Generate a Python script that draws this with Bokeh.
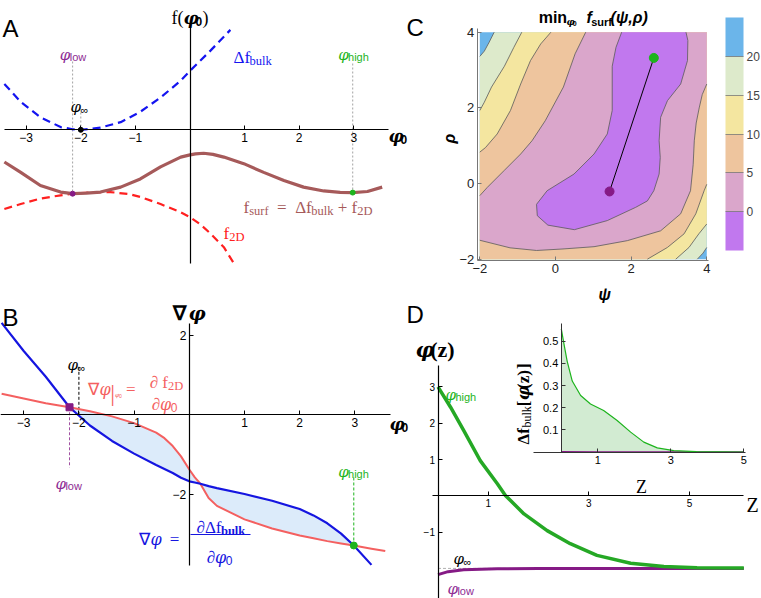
from math import pi
from bokeh.plotting import figure
from bokeh.models import Range1d, LinearAxis, FixedTicker, ColorBar, LinearColorMapper
from bokeh.core.properties import value
from bokeh.embed import file_html
from bokeh.resources import INLINE

# ======================= DATA =======================
# --- Panel A: free energies vs phi0 (arbitrary f units) ---
phi_bulk = [-3.40, -3.10, -2.74, -2.37, -2.15, -2.00, -1.64, -1.27, -0.91, -0.54, -0.17, 0.00, 0.375, 0.74]
df_bulk = [0.84, 0.51, 0.23, 0.05, 0.01, 0.00, 0.04, 0.14, 0.33, 0.59, 0.90, 1.08, 1.45, 1.83]
phi_2d = [-3.40, -3.10, -2.74, -2.37, -2.15, -1.80, -1.46, -1.10, -0.91, -0.54, -0.17, 0.00, 0.20, 0.375, 0.62, 0.83]
f_2d = [-1.45, -1.36, -1.26, -1.20, -1.17, -1.145, -1.14, -1.18, -1.23, -1.36, -1.51, -1.60, -1.74, -1.90, -2.15, -2.49]
phi_surf = [-3.40, -3.10, -2.74, -2.37, -2.15, -1.90, -1.64, -1.27, -0.91, -0.54, -0.17, 0.00, 0.10, 0.25,
            0.42, 0.62, 0.985, 1.35, 1.72, 2.08, 2.45, 2.75, 2.98, 3.25, 3.52]
f_surf = [-0.59, -0.78, -1.02, -1.14, -1.17, -1.16, -1.14, -1.05, -0.90, -0.68, -0.50, -0.46, -0.44, -0.43,
          -0.45, -0.50, -0.62, -0.78, -0.93, -1.05, -1.12, -1.145, -1.15, -1.13, -1.05]
A_phi_low, A_phi_inf, A_phi_high = -2.15, -2.00, 2.98
A_f_low, A_f_high = -1.17, -1.15
A_xticks = [-3, -2, -1, 1, 2, 3]

# --- Panel B: gradients vs phi0 ---
phi_B = [-3.40, -3.00, -2.60, -2.17, -1.80, -1.40, -1.00, -0.60, -0.45, -0.30, -0.15, 0.00, 0.10, 0.20, 0.35,
         0.50, 1.00, 1.50, 2.00, 2.25, 2.50, 2.75, 2.98, 3.30, 3.55]
grad_bulk = [2.32, 1.61, 0.96, 0.19, -0.27, -0.66, -0.98, -1.27, -1.37, -1.47, -1.59, -1.68, -1.71, -1.74, -1.80,
             -1.85, -2.00, -2.17, -2.38, -2.54, -2.74, -3.00, -3.30, -3.79]
grad_2d = [0.53, 0.41, 0.29, 0.19, 0.09, -0.04, -0.21, -0.45, -0.59, -0.79, -1.05, -1.38, -1.58, -1.74, -2.10,
           -2.30, -2.64, -2.87, -3.05, -3.12, -3.19, -3.25, -3.30, -3.38, -3.44]
B_phi_low, B_g_low = -2.17, 0.19
B_phi_high, B_g_high = 2.98, -3.30
B_phi_inf = -2.00
B_xticks = [-3, -2, -1, 1, 2, 3]
B_yticks = [-2, 2]

# --- Panel C: contour levels of min f_surf(psi, rho) ---
psi_lim = [-2.0, 4.0]
rho_lim = [-2.0, 4.0]
C_ticks = [-2, 0, 2, 4]
C_levels = [-5, 0, 5, 10, 15, 20, 25]
C_colors = ["#C178EE", "#DAA6CB", "#EEC59E", "#F4E6A0", "#DDEACB", "#6BB5EA"]
c20u_psi = [-1.62, -1.75, -1.88, -2.00]
c20u_rho = [4.00, 3.74, 3.50, 3.36]
c15u_psi = [-0.89, -1.10, -1.35, -1.69, -1.88, -2.00]
c15u_rho = [4.00, 3.60, 3.10, 2.55, 2.15, 1.93]
c10u_psi = [-0.12, -0.39, -0.66, -0.92, -1.19, -1.54, -1.85, -2.00]
c10u_rho = [4.00, 3.69, 3.25, 2.63, 1.93, 1.31, 0.95, 0.83]
c5u_psi = [0.80, 0.52, 0.21, -0.27, -0.62, -0.92, -1.36, -1.80, -2.00]
c5u_rho = [4.00, 3.43, 2.55, 1.66, 1.13, 0.78, 0.34, -0.10, -0.32]
c5l_psi = [4.00, 3.88, 3.80, 3.72, 3.67, 3.64, 3.57, 3.31, 2.78, 1.90, 1.02, 0.20, -0.50, -1.20, -2.00]
c5l_rho = [2.63, 2.35, 2.00, 1.60, 1.13, 0.50, -0.19, -0.80, -1.25, -1.51, -1.67, -1.73, -1.77, -1.70, -1.50]
c10l_psi = [2.43, 2.96, 3.40, 3.71, 3.93, 4.00]
c10l_rho = [-2.00, -1.69, -1.33, -0.80, -0.19, -0.02]
c15l_psi = [3.18, 3.53, 3.79, 4.00]
c15l_rho = [-2.00, -1.69, -1.33, -1.07]
c20l_psi = [3.75, 3.90, 4.00]
c20l_rho = [-2.00, -1.84, -1.69]
c0_psi = [1.75, 1.60, 1.50, 1.50, 1.50, 1.37, 1.02, 0.49, -0.22, -0.50, -0.48, -0.20, 0.50, 1.37, 2.12,
          2.43, 2.60, 2.74, 2.77, 2.74, 2.78, 2.96, 3.31, 3.49, 3.50, 3.45]
c0_rho = [4.00, 3.60, 3.10, 2.55, 1.93, 1.31, 0.78, 0.25, -0.19, -0.55, -0.85, -1.10, -1.22, -0.98, -0.63,
          -0.46, -0.19, 0.25, 0.69, 1.13, 1.75, 2.19, 2.63, 3.25, 3.78, 4.00]
C_low_pt = (1.43, -0.21)
C_high_pt = (2.60, 3.32)

# --- Panel D: profiles phi(z) and inset bulk free energy ---
z_high = [0.00, 0.25, 0.51, 0.84, 1.18, 1.34, 1.71, 2.17, 2.63, 3.16, 3.83, 4.49, 5.15, 6.08]
phi_high_z = [3.00, 2.44, 1.80, 0.97, 0.33, 0.01, -0.50, -0.96, -1.32, -1.64, -1.86, -1.95, -1.98, -1.99]
z_low = [0.00, 0.20, 0.51, 1.18, 2.00, 3.00, 6.08]
phi_low_z = [-2.17, -2.09, -2.04, -2.01, -2.00, -2.00, -2.00]
D_phi_inf = -2.0
D_xticks = [1, 3, 5]
D_yticks = [-1, 1, 2, 3]
zi = [0.00, 0.07, 0.16, 0.30, 0.53, 0.80, 1.16, 1.53, 1.90, 2.26, 2.63, 3.08, 3.70, 5.00]
dfz_high = [0.555, 0.49, 0.41, 0.32, 0.255, 0.217, 0.187, 0.142, 0.090, 0.045, 0.019, 0.007, 0.002, 0.0]
zi_low = [0.0, 1.0, 5.0]
dfz_low = [0.001, 0.0, 0.0]
I_xticks = [1, 3, 5]
I_yticks = [0.1, 0.2, 0.3, 0.4, 0.5]

# ======================= STYLE / HELPERS =======================
SANS = "Liberation Sans"
SERIF = "Liberation Serif"
GREEK = "DejaVu Serif"
NB = "\u00a0"
PURPLE = "#851A85"
PURPLE_T = "#8E2C94"
GREEN = "#25A825"
GREEN_T = "#1DB41D"
BROWN = "#A65A5A"
BLUE_A = "#1414F0"
RED_A = "#FF2020"
BLUE_B = "#1515E0"
RED_B = "#F46060"

WS = {c: 0.556 for c in "0123456789"}
WS.update({'l': 0.222, 'o': 0.556, 'w': 0.722, 'h': 0.556, 'i': 0.222, 'g': 0.556, 'm': 0.833, 'n': 0.556,
           ' ': 0.278, NB: 0.278, 'ψ': 0.70, 'ρ': 0.58, ',': 0.278, '(': 0.333, ')': 0.333, 'f': 0.278,
           's': 0.5, 'u': 0.556, 'r': 0.333, 'A': 0.667, 'B': 0.667, 'C': 0.722, 'D': 0.722, '∞': 0.75})
WR = {'f': 0.333, '(': 0.333, ')': 0.333, 'Δ': 0.612, '=': 0.564, '+': 0.564, '∂': 0.494, '∇': 0.713,
      'Z': 0.611, '[': 0.333, ']': 0.333, 'z': 0.444, 'b': 0.5, 'u': 0.5, 'l': 0.278, 'k': 0.5, 's': 0.389,
      'r': 0.333, '2': 0.5, 'D': 0.722, ' ': 0.25, NB: 0.25, '0': 0.5, '∞': 0.713, '|': 0.2}
WG = {'φ': 0.66}


def rich(p, x, y, parts, color, align="left", angle=0.0, **rn):
    ws = []
    for t, fam, size, style, dy in parts:
        tab = WR if fam == SERIF else (WG if fam == GREEK else WS)
        w = sum(tab.get(c, 0.55) for c in t) * size
        if "bold" in style:
            w *= 1.06
        ws.append(w)
    tot = sum(ws)
    off = {"left": 0.0, "center": -tot / 2.0, "right": -tot}[align]
    for (t, fam, size, style, dy), w in zip(parts, ws):
        xo, yo = (off, dy) if angle == 0 else (dy, -off)
        p.text(x=[x], y=[y], text=[t], x_offset=xo, y_offset=yo, angle=angle,
               text_font=value(fam), text_font_size=f"{size}px", text_font_style=style,
               text_color=color, text_align="left", text_baseline="alphabetic", **rn)
        off += w


def PHI(size, bold=False):
    return ("φ", GREEK, size, "bold italic" if bold else "italic", 0)


def phi_sub(sub, size=15, subsize=11, dy=2, bold=False):
    return [PHI(size, bold), (sub, SANS, subsize, "bold" if bold else "normal", dy)]


def neg(ticks):
    return {t: ("−" + str(abs(t))) for t in ticks if t < 0}


def axis(p, side, loc, bounds, ticks, size="12px", tick_in=4, color="black", width=1.2,
         standoff=2, label_color="black", **kw):
    a = LinearAxis(fixed_location=loc, bounds=bounds, ticker=FixedTicker(ticks=ticks, minor_ticks=[]),
                   axis_line_color=color, axis_line_width=width, major_tick_in=tick_in, major_tick_out=0,
                   major_tick_line_color=color, minor_tick_in=0, minor_tick_out=0,
                   major_label_text_font=SANS, major_label_text_font_size=size,
                   major_label_text_color=label_color, major_label_standoff=standoff, **kw)
    ov = neg(ticks)
    if ov:
        a.major_label_overrides = ov
    p.add_layout(a, side)
    return a


# pixel -> data converters (layout positions only)
def XA(px): return (px - 189.5) / 54.6
def YA(py): return (129.3 - py) / 54.6
def XB(px): return (px - 188.8) / 55.2
def YB(py): return (414.3 - py) / 39.6
def XC(px): return -2 + (px - 479.3) / 37.83
def YC(py): return 4 - (py - 31.7) / 37.83
def XD(px): return (px - 437.5) / 50.3
def YD(py): return (495.3 - py) / 36.3
def XI(px): return (px - 560.8) / 36.5
def YI(py): return (451.6 - py) / 222.0


W, H = 761, 598
p = figure(width=W, height=H, x_range=Range1d(XA(0), XA(W)), y_range=Range1d(YA(H), YA(0)),
           output_backend="svg", toolbar_location=None, x_axis_location=None, y_axis_location=None,
           min_border=0, outline_line_color=None, background_fill_color="white", border_fill_color="white")
p.grid.visible = False
p.extra_x_ranges = {"xB": Range1d(XB(0), XB(W)), "xC": Range1d(XC(0), XC(W)),
                    "xD": Range1d(XD(0), XD(W)), "xI": Range1d(XI(0), XI(W))}
p.extra_y_ranges = {"yB": Range1d(YB(H), YB(0)), "yC": Range1d(YC(H), YC(0)),
                    "yD": Range1d(YD(H), YD(0)), "yI": Range1d(YI(H), YI(0))}
RB = dict(x_range_name="xB", y_range_name="yB")
RC = dict(x_range_name="xC", y_range_name="yC")
RD = dict(x_range_name="xD", y_range_name="yD")
RI = dict(x_range_name="xI", y_range_name="yI")

# ======================= PANEL A =======================
axis(p, "below", 0, (XA(4), XA(388)), A_xticks, standoff=3)
axis(p, "left", 0, (YA(263), YA(26)), [], tick_in=0)
GUIDE = dict(line_color="#8c8c8c", line_dash="2 2", line_width=0.8)
p.segment(x0=[A_phi_low], y0=[YA(61)], x1=[A_phi_low], y1=[A_f_low], **GUIDE)
p.segment(x0=[A_phi_high], y0=[YA(63)], x1=[A_phi_high], y1=[A_f_high], **GUIDE)
p.segment(x0=[A_phi_inf], y0=[YA(112)], x1=[A_phi_inf], y1=[0], **GUIDE)
p.line(phi_bulk, df_bulk, line_color=BLUE_A, line_width=2.2, line_dash="8 5")
p.line(phi_2d, f_2d, line_color=RED_A, line_width=2.2, line_dash="8 5")
p.line(phi_surf, f_surf, line_color=BROWN, line_width=3.2, line_join="round")
p.scatter([A_phi_low], [A_f_low], size=5, color=PURPLE)
p.scatter([A_phi_high], [A_f_high], size=5, color=GREEN_T)
p.scatter([A_phi_inf], [0], size=5, color="black")
rich(p, XA(2), YA(28), [("A", SANS, 24, "normal", 0)], "black")
rich(p, XA(189.5), YA(17), [("f(", SERIF, 18, "normal", 0), PHI(17, True),
                            ("0", SANS, 12, "bold", 4), (")", SERIF, 18, "normal", 0)], "black", "center")
rich(p, XA(72.5), YA(54), phi_sub("low"), PURPLE_T, "center")
rich(p, XA(70), YA(106), phi_sub("∞", dy=3), "black")
rich(p, XA(233), YA(57), [("Δf", SERIF, 17, "normal", 0), ("bulk", SERIF, 12.5, "normal", 3)], BLUE_A)
rich(p, XA(353), YA(54), phi_sub("high"), GREEN_T, "center")
rich(p, XA(243), YA(207), [("f", SERIF, 17, "normal", 0), ("surf", SERIF, 12.5, "normal", 3),
                           (NB * 2 + "=" + NB * 2, SERIF, 17, "normal", 0), ("Δf", SERIF, 17, "normal", 0),
                           ("bulk", SERIF, 12.5, "normal", 3), (NB + "+" + NB, SERIF, 17, "normal", 0),
                           ("f", SERIF, 17, "normal", 0), ("2D", SERIF, 12.5, "normal", 3)], BROWN)
rich(p, XA(223), YA(233), [("f", SERIF, 17, "normal", 0), ("2D", SERIF, 12.5, "normal", 3)], RED_A)
rich(p, XA(388), YA(135), phi_sub("0", size=17, subsize=12, dy=4, bold=True), "black")

# ======================= PANEL B =======================
axis(p, "below", 0, (XB(0), XB(390)), B_xticks, standoff=3, **RB)
axis(p, "left", 0, (YB(565), YB(323)), B_yticks, standoff=3, **RB)
i0, i1 = phi_B.index(B_phi_low), phi_B.index(B_phi_high)
p.varea(x=phi_B[i0:i1 + 1], y1=grad_bulk[i0:i1 + 1], y2=grad_2d[i0:i1 + 1], fill_color="#DCEBFA", **RB)
p.segment(x0=[B_phi_inf], y0=[0], x1=[B_phi_inf], y1=[YB(366)], line_color="black", line_dash="3 2",
          line_width=1, **RB)
p.segment(x0=[B_phi_low], y0=[B_g_low], x1=[B_phi_low], y1=[YB(467)], line_color="#A050A0", line_dash="3 2",
          line_width=1, **RB)
p.segment(x0=[B_phi_high], y0=[B_g_high], x1=[B_phi_high], y1=[YB(476)], line_color=GREEN_T, line_dash="3 2",
          line_width=1, **RB)
p.line(phi_B, grad_2d, line_color=RED_B, line_width=2, line_join="round", **RB)
p.line(phi_B[:len(grad_bulk)], grad_bulk, line_color=BLUE_B, line_width=2.2, line_join="round", **RB)
p.scatter([B_phi_low], [B_g_low], size=7, color=PURPLE, marker="square", **RB)
p.scatter([B_phi_high], [B_g_high], size=7, color=GREEN_T, **RB)
rich(p, XB(2), YB(317), [("B", SANS, 24, "normal", 0)], "black", **RB)
rich(p, XB(187), YB(312), [("∇", SERIF, 20, "bold", 0), PHI(19, True)], "black", "center", **RB)
rich(p, XB(389), YB(423), phi_sub("0", size=17, subsize=12, dy=4, bold=True), "black", **RB)
rich(p, XB(67), YB(364), phi_sub("∞", dy=3), "black", **RB)
rich(p, XB(55), YB(483), phi_sub("low"), PURPLE_T, **RB)
rich(p, XB(353), YB(471), phi_sub("high"), GREEN_T, "center", **RB)
# red formula
rich(p, XB(87), YB(389), [("∇", SERIF, 17, "normal", 0), PHI(16),
                          ("|", SERIF, 24, "normal", 3), ("φ", GREEK, 6, "italic", 5), ("0", SANS, 5, "normal", 6),
                          (NB + "=" + NB, SERIF, 17, "normal", 0)], RED_B, **RB)
rich(p, XB(166), YB(382), [("∂" + NB + "f", SERIF, 17, "normal", 0), ("2D", SERIF, 12.5, "normal", 3)],
     RED_B, "center", **RB)
rich(p, XB(164), YB(404), [("∂", SERIF, 17, "normal", 0), PHI(16), ("0", SANS, 12, "normal", 3)],
     RED_B, "center", **RB)
# blue formula
rich(p, XB(138), YB(539), [("∇", SERIF, 17, "normal", 0), PHI(16), (NB * 2 + "=", SERIF, 17, "normal", 0)],
     BLUE_B, **RB)
rich(p, XB(220), YB(527), [("∂Δf", SERIF, 17, "normal", 0), ("bulk", SERIF, 12.5, "bold", 3)],
     BLUE_B, "center", **RB)
p.segment(x0=[XB(190)], y0=[YB(534)], x1=[XB(250)], y1=[YB(534)], line_color=BLUE_B, line_width=1, **RB)
rich(p, XB(219), YB(557), [("∂", SERIF, 17, "normal", 0), PHI(16), ("0", SANS, 12, "normal", 3)],
     BLUE_B, "center", **RB)

# ======================= PANEL C =======================
p.quad(left=[psi_lim[0]], right=[psi_lim[1]], bottom=[rho_lim[0]], top=[rho_lim[1]],
       fill_color=C_colors[5], line_color=None, **RC)


def band(upsi, urho, lpsi, lrho):
    return upsi + [psi_lim[0]] + lpsi + [psi_lim[1]], urho + [rho_lim[0]] + lrho + [rho_lim[1]]


for (up, ur, lp, lr), col in zip([(c20u_psi, c20u_rho, c20l_psi, c20l_rho),
                                  (c15u_psi, c15u_rho, c15l_psi, c15l_rho),
                                  (c10u_psi, c10u_rho, c10l_psi, c10l_rho)],
                                 [C_colors[4], C_colors[3], C_colors[2]]):
    xs, ys = band(up, ur, lp, lr)
    p.patch(xs, ys, fill_color=col, line_color=None, **RC)
p.patch(c5u_psi + c5l_psi[::-1] + [psi_lim[1]], c5u_rho + c5l_rho[::-1] + [rho_lim[1]],
        fill_color=C_colors[1], line_color=None, **RC)
p.patch(c0_psi, c0_rho, fill_color=C_colors[0], line_color=None, **RC)
p.multi_line(xs=[c20u_psi, c15u_psi, c10u_psi, c5u_psi, c5l_psi, c10l_psi, c15l_psi, c20l_psi, c0_psi],
             ys=[c20u_rho, c15u_rho, c10u_rho, c5u_rho, c5l_rho, c10l_rho, c15l_rho, c20l_rho, c0_rho],
             line_color="#5a5a5a", line_width=0.8, **RC)
p.line([C_low_pt[0], C_high_pt[0]], [C_low_pt[1], C_high_pt[1]], line_color="black", line_width=1, **RC)
p.scatter([C_low_pt[0]], [C_low_pt[1]], size=9, color=PURPLE, **RC)
p.scatter([C_high_pt[0]], [C_high_pt[1]], size=9, color=GREEN_T, **RC)
axis(p, "below", YC(260), (XC(476.7), XC(708)), C_ticks, size="13px", tick_in=4, color="#777",
     standoff=3, label_color="#222", width=1, **RC)
axis(p, "left", XC(476.7), (YC(260), YC(28)), C_ticks, size="13px", tick_in=4, color="#777",
     standoff=3, label_color="#222", width=1, **RC)
cmap = LinearColorMapper(palette=C_colors, low=C_levels[0], high=C_levels[-1])
cb = ColorBar(color_mapper=cmap, ticker=FixedTicker(ticks=C_levels[1:-1]), orientation="vertical",
              location=(725, H - 250), width=18, height=233, padding=0, margin=0,
              major_label_text_font=SANS, major_label_text_font_size="12px", major_label_text_color="#444",
              major_tick_in=18, major_tick_out=0, major_tick_line_color="#777", major_tick_line_width=0.8,
              label_standoff=3, bar_line_color=None, background_fill_color=None, border_line_color=None)
p.add_layout(cb, "center")
rich(p, XC(406), YC(27), [("C", SANS, 24, "normal", 0)], "black", **RC)
rich(p, XC(593), YC(17), [("min", SANS, 16, "bold", 0), (NB, SANS, 2, "normal", 0),
                          ("φ", GREEK, 9, "bold italic", 4), ("0", SANS, 7, "bold", 6),
                          (NB * 2, SANS, 16, "bold", 0), ("f", SANS, 16, "bold italic", 0),
                          ("surf", SANS, 11, "bold", 4), ("(ψ,ρ)", SANS, 16, "bold italic", 0)], "black", "center", **RC)
rich(p, XC(604), YC(294), [("ψ", SANS, 16, "bold italic", 0)], "black", "center", **RC)
rich(p, XC(449), YC(138), [("ρ", SANS, 16, "bold italic", 0)], "black", "center", angle=pi / 2, **RC)

# ======================= PANEL D =======================
axis(p, "below", 0, (XD(431.7), XD(743.3)), D_xticks, size="10px", standoff=3, **RD)
axis(p, "left", 0, (YD(598), YD(365)), D_yticks, size="10px", standoff=3, **RD)
axis(p, "below", 0, (XI(533.3), XI(745)), I_xticks, size="11px", standoff=4, color="#333", width=1, **RI)
axis(p, "left", 0, (0, YI(323.3)), I_yticks, size="11px", standoff=3, color="#333", width=1, **RI)
p.varea(x=zi, y1=0, y2=dfz_high, fill_color="#D2EBD2", **RI)
p.line(zi_low, dfz_low, line_color=PURPLE, line_width=1.6, **RI)
p.line(zi, dfz_high, line_color=GREEN_T, line_width=1.2, line_join="round", **RI)
p.segment(x0=[z_low[0]], y0=[D_phi_inf], x1=[z_low[-1]], y1=[D_phi_inf], line_color="#b0b0b0",
          line_dash="3 2", line_width=1, **RD)
p.line(z_low, phi_low_z, line_color=PURPLE, line_width=3, line_join="round", **RD)
p.line(z_high, phi_high_z, line_color=GREEN, line_width=3.5, line_join="round", **RD)
rich(p, XD(406), YD(314), [("D", SANS, 24, "normal", 0)], "black", **RD)
rich(p, XD(415), YD(349), [PHI(21, True), ("(z)", SERIF, 22, "bold", 0)], "black", **RD)
rich(p, XD(445), YD(394), phi_sub("high"), GREEN_T, **RD)
rich(p, XD(453), YD(558), phi_sub("∞", dy=3), "black", **RD)
rich(p, XD(447), YD(588), phi_sub("low"), PURPLE_T, **RD)
rich(p, XD(746), YD(504), [("Z", SERIF, 20, "normal", 0)], "black", **RD)
rich(p, XD(641), YD(486), [("Z", SERIF, 18, "normal", 0)], "black", "center", **RD)
rich(p, XD(523), YD(444), [("Δf", SERIF, 17, "bold", 0), ("bulk", SERIF, 12, "normal", 3),
                           ("[", SERIF, 17, "bold", 0), PHI(16, True),
                           ("(z)", SERIF, 17, "bold", 0), ("]", SERIF, 17, "bold", 0)], "black", angle=pi / 2, **RD)

open("out.html", "w").write(file_html(p, INLINE))
